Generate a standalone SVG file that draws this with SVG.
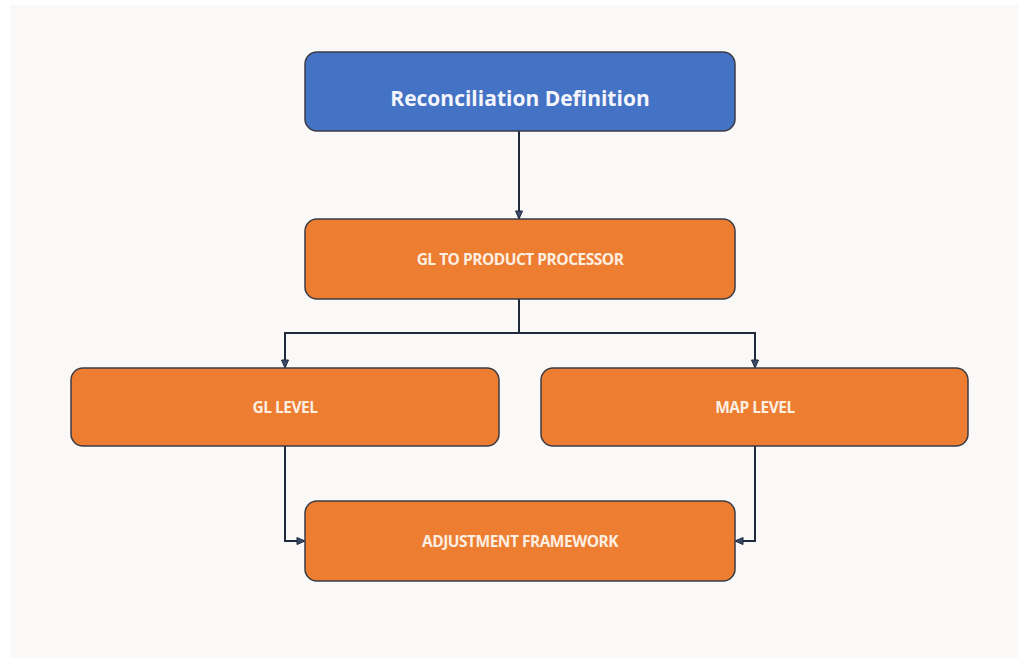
<svg xmlns="http://www.w3.org/2000/svg" width="1021" height="660" viewBox="0 0 1021 660">
<defs>
<marker id="arr" markerWidth="10" markerHeight="10" refX="8" refY="5" orient="auto" markerUnits="userSpaceOnUse">
<path d="M1,1.5 L9,5 L1,8.5 Z" fill="#3a4a6b" stroke="#1f2a3a" stroke-width="1"/>
</marker>
<style>
.node rect{stroke:#3b3b45;stroke-width:1.5}
.blue{fill:#4472c4}
.orange{fill:#ed7d31}
.t{font-family:"Open Sans","Noto Sans","Liberation Sans",sans-serif;font-weight:bold;text-anchor:middle;dominant-baseline:central}
.tb{font-size:21px;fill:#f4f6fb}
.to{font-size:15.5px;fill:#fcefe2;letter-spacing:-0.5px}
.conn path{fill:none;stroke:#1f2a3a;stroke-width:2}
</style>
</defs>
<rect x="0" y="0" width="1021" height="660" fill="#ffffff"/>
<rect x="10" y="5" width="1008" height="653" fill="#faf9f8"/>
<g class="conn">
<path d="M519,131 V218" marker-end="url(#arr)"/>
<path d="M519,299 V333 H285 V367" marker-end="url(#arr)"/>
<path d="M519,333 H755 V367" marker-end="url(#arr)"/>
<path d="M285,446 V541 H304" marker-end="url(#arr)"/>
<path d="M755,446 V541 H736" marker-end="url(#arr)"/>
</g>
<g id="reconciliation-definition" class="node">
<rect class="blue" x="305" y="52" width="430" height="79" rx="12"/>
<text class="t tb" x="520" y="98">Reconciliation Definition</text>
</g>
<g id="gl-to-product-processor" class="node">
<rect class="orange" x="305" y="219" width="430" height="80" rx="12"/>
<text class="t to" x="520" y="259">GL TO PRODUCT PROCESSOR</text>
</g>
<g id="gl-level" class="node">
<rect class="orange" x="71" y="368" width="428" height="78" rx="12"/>
<text class="t to" x="285" y="407">GL LEVEL</text>
</g>
<g id="map-level" class="node">
<rect class="orange" x="541" y="368" width="427" height="78" rx="12"/>
<text class="t to" x="755" y="407">MAP LEVEL</text>
</g>
<g id="adjustment-framework" class="node">
<rect class="orange" x="305" y="501" width="430" height="80" rx="12"/>
<text class="t to" x="520" y="541">ADJUSTMENT FRAMEWORK</text>
</g>
</svg>
